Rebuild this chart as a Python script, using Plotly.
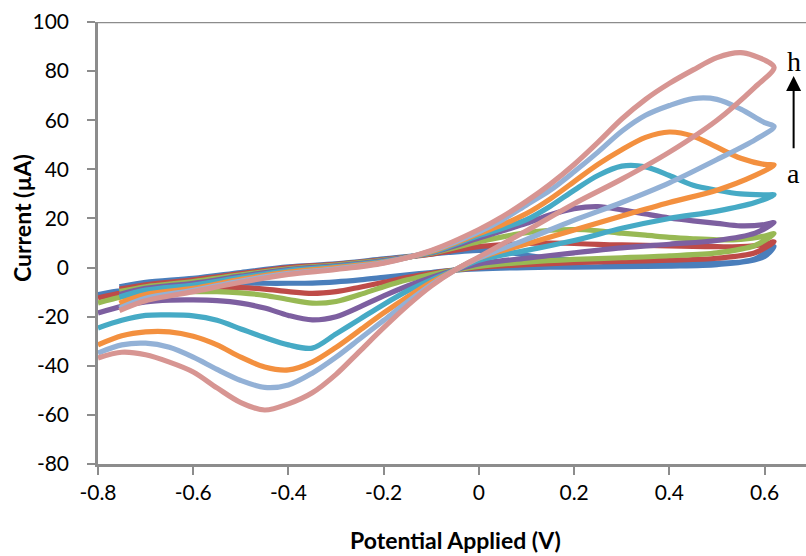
import plotly.graph_objects as go

# Cyclic voltammograms a-h: forward (anodic) sweep then reverse (cathodic) sweep
labels = ["a", "b", "c", "d", "e", "f", "g", "h"]
colors = ["#4A7EBB", "#BE4B48", "#98B954", "#7D5FA0",
          "#46AAC5", "#F3903F", "#93B1D6", "#D79592"]

# forward sweep potentials (V)
e_fwd = [-0.755, -0.7, -0.6, -0.5, -0.4, -0.3, -0.2, -0.1, 0.0, 0.05, 0.1,
         0.15, 0.2, 0.25, 0.3, 0.35, 0.4, 0.45, 0.5, 0.55, 0.6, 0.62]
# reverse sweep potentials (V)
e_rev = [0.58, 0.5, 0.4, 0.3, 0.2, 0.1, 0.0, -0.05, -0.1, -0.15, -0.2, -0.25,
         -0.3, -0.35, -0.4, -0.45, -0.5, -0.55, -0.6, -0.65, -0.7, -0.75, -0.8]

# forward sweep currents (uA)
i_fwd_a = [-7.8, -6, -4.4, -2, 0.3, 1.5, 3.5, 5.5, 7, 6.5, 5, 3.8, 3, 2.5, 2.2, 2, 1.8, 1.8, 1.8, 2.2, 4.5, 8.5]
i_fwd_b = [-8.8, -7, -5, -2.5, 0, 1.3, 3.2, 5.5, 8.5, 9.3, 9.8, 10, 9.8, 9.4, 9.2, 9, 8.8, 8.6, 8.5, 8.5, 9.5, 10.5]
i_fwd_c = [-9.8, -7.8, -5.7, -3, -0.5, 1, 3, 5.8, 10.5, 12.5, 14.2, 15.2, 15.5, 15, 14, 13.2, 12.3, 11.7, 11.3, 11.5, 12.8, 13.8]
i_fwd_d = [-11, -8.5, -6.4, -3.5, -0.8, 0.7, 2.8, 6, 12, 15, 18, 21.5, 24, 24.8, 23.5, 21.8, 20.2, 19, 18, 17, 17.5, 18.3]
i_fwd_e = [-12, -9.2, -7.1, -4, -1.2, 0.4, 2.5, 6.2, 13, 16, 19.5, 25, 31.5, 37.5, 41.3, 41, 37.5, 33.5, 31.5, 30, 29.6, 29.6]
i_fwd_f = [-14.5, -11, -8.5, -4.8, -1.8, 0, 2.2, 6.5, 13.8, 17.5, 22, 28, 35, 42, 48, 53, 55.2, 53.5, 49, 44.5, 42, 41.8]
i_fwd_g = [-16.5, -12.5, -9.3, -5.5, -2.4, -0.5, 2, 6.8, 14.5, 19.5, 25.5, 31.5, 39, 47, 55.5, 62, 66, 68.8, 68.5, 64.5, 59, 57.5]
i_fwd_h = [-17.5, -13.5, -9.8, -6, -2.8, -0.8, 1.8, 7, 15.5, 20.8, 27, 34, 42, 51, 60.5, 68.5, 75, 80.5, 85.5, 87.5, 84.5, 81.5]

# reverse sweep currents (uA)
i_rev_a = [3.5, 1.2, 0.6, 0.4, 0.2, 0, -0.5, -1, -2, -3, -4, -5, -5.8, -6.3, -6.4, -6.4, -6.4, -6.4, -6.6, -7.2, -8, -9.3, -11]
i_rev_b = [6, 3.8, 3, 2.5, 2, 1.2, 0, -1, -2.3, -4, -6, -8, -9.8, -10.5, -9.8, -8.8, -8.2, -8, -8, -8.3, -9, -10.3, -12.4]
i_rev_c = [9, 6, 4.8, 4, 3.3, 2.2, 0.5, -1, -2.8, -5, -7.8, -11, -13.8, -14.5, -13, -11.3, -10.3, -9.8, -9.8, -10, -10.7, -12, -14.4]
i_rev_d = [14, 11, 9.5, 8, 6, 3.8, 1.5, -1, -4, -7.5, -11.5, -16, -20, -21.3, -19.5, -16.5, -14.5, -13.5, -13.2, -13.3, -14, -15.8, -18.5]
i_rev_e = [26.5, 23, 20, 16, 11, 7, 3, -1, -5, -9.5, -15, -21, -27, -32.8, -31.5, -28.5, -25, -21.5, -19.7, -19.3, -19.5, -21.5, -24.6]
i_rev_f = [37.5, 31.5, 26.5, 21, 15.3, 9.6, 3.9, -1, -6, -12, -18.5, -25.5, -32.5, -38.5, -41.7, -40.5, -36.5, -31.5, -28, -26.2, -26.2, -27.8, -31.5]
i_rev_g = [52, 44, 34.5, 26.5, 19.3, 11.5, 3.9, -1, -7, -14, -21.5, -29, -36.5, -43, -47.8, -48.8, -46, -41.5, -36.5, -32.5, -30.8, -31.5, -34.8]
i_rev_h = [73.5, 60, 47, 36, 26, 15, 4.3, -1, -7.5, -15.5, -24.5, -34, -43.5, -51, -55.5, -58, -55, -49, -42.5, -38.5, -35.5, -34.5, -36.8]

i_fwd = [i_fwd_a, i_fwd_b, i_fwd_c, i_fwd_d, i_fwd_e, i_fwd_f, i_fwd_g, i_fwd_h]
i_rev = [i_rev_a, i_rev_b, i_rev_c, i_rev_d, i_rev_e, i_rev_f, i_rev_g, i_rev_h]

x_ticks = [-0.8, -0.6, -0.4, -0.2, 0, 0.2, 0.4, 0.6]
x_ticktext = ["-0.8", "-0.6", "-0.4", "-0.2", "0", "0.2", "0.4", "0.6"]
y_ticks = [-80, -60, -40, -20, 0, 20, 40, 60, 80, 100]
y_ticktext = ["-80", "-60", "-40", "-20", "0", "20", "40", "60", "80", "100"]

AXIS_GREY = "#8C8C8C"
TICK_FONT = dict(family="Lato, 'Open Sans', sans-serif", size=21, color="#000000")
TITLE_FONT = dict(family="Lato, sans-serif", size=23, color="#000000")

fig = go.Figure()
for lab, col, fw, rv in zip(labels, colors, i_fwd, i_rev):
    fig.add_trace(go.Scatter(
        x=e_fwd + e_rev, y=fw + rv, name=lab, mode="lines",
        line=dict(color=col, width=5.2, shape="spline", smoothing=0.9),
        showlegend=False, hoverinfo="skip"))

fig.update_layout(
    width=806, height=556,
    margin=dict(l=98, r=0, t=22, b=92),
    paper_bgcolor="white", plot_bgcolor="white",
    xaxis=dict(range=[-0.8, 0.687], tickvals=x_ticks, ticktext=x_ticktext,
               showgrid=False, zeroline=False, showline=True,
               linecolor=AXIS_GREY, linewidth=2.5,
               ticks="outside", ticklen=8, tickwidth=2, tickcolor=AXIS_GREY,
               tickfont=TICK_FONT),
    yaxis=dict(range=[-80, 100], tickvals=y_ticks, ticktext=y_ticktext,
               showgrid=False, zeroline=False, showline=True,
               linecolor=AXIS_GREY, linewidth=2.5,
               ticks="outside", ticklen=8, tickwidth=2, tickcolor=AXIS_GREY,
               ticklabelstandoff=14, tickfont=TICK_FONT),
    shapes=[dict(type="line", xref="paper", yref="y", x0=0, x1=1, y0=100, y1=100,
                 line=dict(color=AXIS_GREY, width=2.5), layer="below")],
    annotations=[
        dict(text="<b>Potential Applied (V)</b>", xref="paper", yref="paper",
             x=(456 - 98) / 708, y=-(540 - 464) / 442, xanchor="center", yanchor="middle",
             showarrow=False, font=TITLE_FONT),
        dict(text="<b>Current (µA)</b>", xref="paper", yref="paper",
             x=-(98 - 22) / 708, y=(464 - 218) / 442, xanchor="center", yanchor="middle",
             textangle=-90, showarrow=False, font=TITLE_FONT),
        dict(text="h", x=0.661, y=84, xref="x", yref="y", showarrow=False,
             xanchor="center", yanchor="middle",
             font=dict(family="Liberation Serif, serif", size=28, color="#000")),
        dict(text="a", x=0.661, y=38.5, xref="x", yref="y", showarrow=False,
             xanchor="center", yanchor="middle",
             font=dict(family="Liberation Serif, serif", size=28, color="#000")),
        dict(text="", x=0.661, y=78, ax=0.661, ay=48, xref="x", yref="y",
             axref="x", ayref="y", showarrow=True, arrowhead=2, arrowsize=1.5,
             arrowwidth=2, arrowcolor="#000"),
    ],
)

fig.write_html("out.html")
